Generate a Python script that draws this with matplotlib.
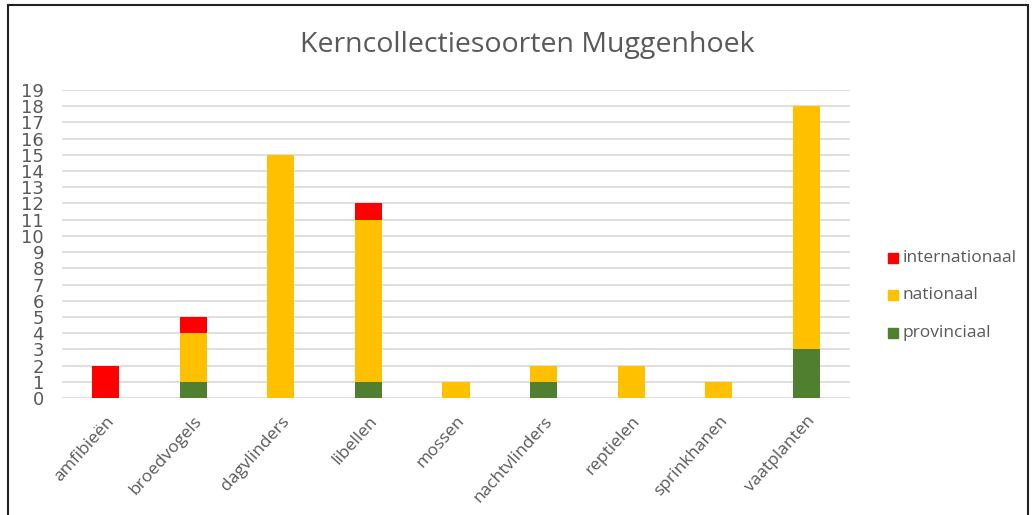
import matplotlib
matplotlib.use("Agg")
import matplotlib.pyplot as plt
from matplotlib.patches import Rectangle
import numpy as np

categories = ["amfibieën", "broedvogels", "dagvlinders", "libellen", "mossen",
              "nachtvlinders", "reptielen", "sprinkhanen", "vaatplanten"]
provinciaal = [0, 1, 0, 1, 0, 1, 0, 0, 3]
nationaal = [0, 3, 15, 10, 1, 1, 2, 1, 15]
internationaal = [2, 1, 0, 1, 0, 0, 0, 0, 0]
yticks = list(range(0, 20))

c_int = "#FF0000"
c_nat = "#FFC000"
c_prov = "#4F7F2F"
gray = "#595959"

fig = plt.figure(figsize=(10.36, 5.15), dpi=100)
ax = fig.add_axes([62/1036, 1-398/515, (850-62)/1036, (398-90)/515])

x = np.arange(len(categories))
w = 0.31
prov = np.array(provinciaal)
nat = np.array(nationaal)
intl = np.array(internationaal)
ax.bar(x, prov, w, color=c_prov, zorder=3, label="provinciaal")
ax.bar(x, nat, w, bottom=prov, color=c_nat, zorder=3, label="nationaal")
ax.bar(x, intl, w, bottom=prov+nat, color=c_int, zorder=3, label="internationaal")

ax.set_xlim(-0.5, len(categories)-0.5)
ax.set_ylim(0, 19)
ax.set_yticks(yticks)
ax.set_yticklabels([str(v) for v in yticks], fontsize=13,
                   family=["Liberation Sans Narrow", "DejaVu Sans"], color=gray)
ax.yaxis.grid(True, color="#D9D9D9", linewidth=1.2, zorder=0)
ax.tick_params(axis="y", length=0, pad=13)
ax.tick_params(axis="x", length=0, pad=11)
for s in ax.spines.values():
    s.set_visible(False)
ax.set_xticks(x)
ax.set_xticklabels(categories, rotation=48, ha="right", rotation_mode="anchor",
                   fontsize=12.5, color=gray, family="Open Sans")

fig.text(527/1036, 1-45/515, "Kerncollectiesoorten Muggenhoek", ha="center", va="center",
         fontsize=20.5, color=gray, family="Open Sans")

# legend
leg_items = [("internationaal", c_int, 258), ("nationaal", c_nat, 295), ("provinciaal", c_prov, 333)]
for lab, col, yy in leg_items:
    fig.patches.append(Rectangle((888/1036, 1-(yy+5)/515), 10/1036, 10/515,
                                 transform=fig.transFigure, color=col))
    fig.text(903/1036, 1-yy/515, lab, ha="left", va="center", fontsize=12.5,
             color=gray, family="Open Sans")

# frame
fig.patches.append(Rectangle((8/1036, -0.05), (1028-8)/1036, 1.05-5/515,
                             transform=fig.transFigure, fill=False,
                             edgecolor="#222222", linewidth=1.5))

fig.savefig("out.png", dpi=100)
